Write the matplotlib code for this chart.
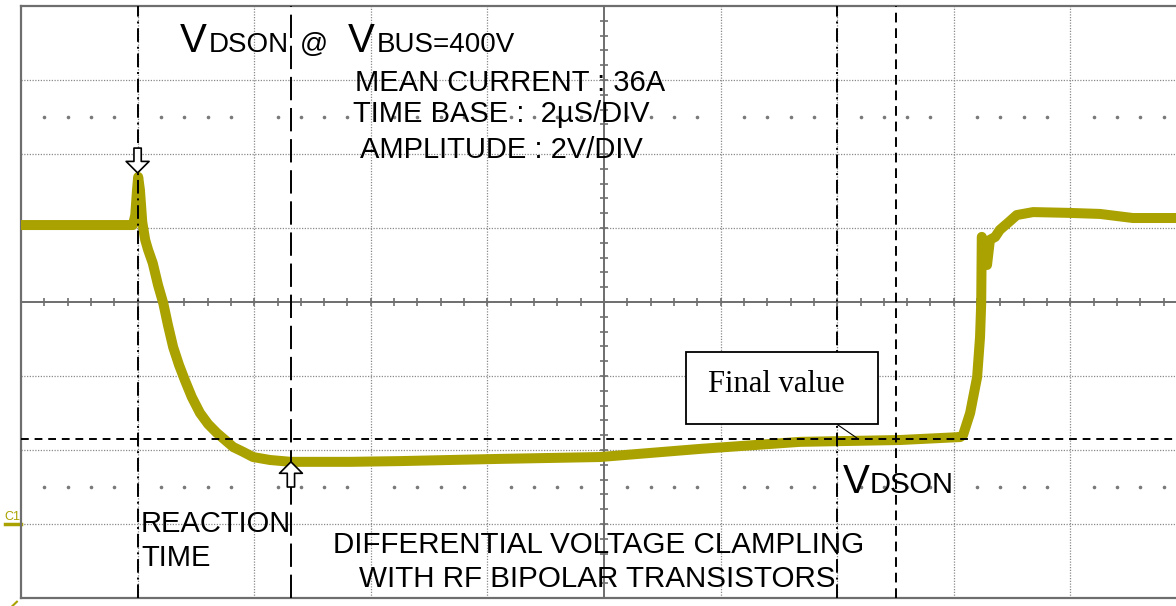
import numpy as np
import matplotlib.pyplot as plt
from matplotlib.patches import Rectangle

# Осцилограма на VDSON: 2 µs/div по време, 2 V/div по амплитуда

# сигнал (време в µs, напрежение във V)
trace_t = [0.00, 1.92, 1.96, 1.99, 2.01, 2.04, 2.08, 2.13, 2.18, 2.26, 2.35, 2.44,
           2.52, 2.61, 2.71, 2.81, 2.93, 3.07, 3.21, 3.36, 3.50, 3.64, 3.81, 3.98,
           4.27, 4.63, 5.64, 6.50, 8.22, 9.93, 11.65, 13.36, 15.08, 16.11, 16.16,
           16.28, 16.40, 16.45, 16.47, 16.48, 16.50, 16.54, 16.57, 16.62, 16.71,
           16.79, 16.93, 17.08, 17.36, 17.94, 18.51, 19.07, 20.00]
trace_v = [8.08, 8.08, 8.35, 9.03, 9.38, 9.03, 8.16, 7.68, 7.41, 7.05, 6.46, 5.97,
           5.38, 4.78, 4.30, 3.89, 3.43, 3.00, 2.70, 2.46, 2.27, 2.08, 1.95, 1.81,
           1.73, 1.68, 1.68, 1.70, 1.76, 1.81, 2.03, 2.22, 2.27, 2.35, 2.41,
           3.00, 3.97, 5.05, 5.97, 7.76, 7.68, 7.27, 7.00, 7.68, 7.76,
           7.95, 8.14, 8.35, 8.43, 8.41, 8.38, 8.27, 8.27]

# курсори
cursor_dashdot_t = [2.0, 14.0]
cursor_dashed_t = [4.63, 15.0]
cursor_v = 2.3

# стрелки: (t, от V, до V)
arrow_down = (2.0, 10.16, 9.49)
arrow_up = (4.63, 1.0, 1.68)

yellow = '#aaa200'
grid_col = '#8a8a8a'
axis_col = '#6e6e6e'
sans = 'Liberation Sans'

fig = plt.figure(figsize=(11.76, 6.06), dpi=100)
ax = fig.add_axes([21 / 1176, 8 / 606, 1166 / 1176, 592 / 606])
ax.set_xlim(0, 20)
ax.set_ylim(-2, 14)
ax.set_xticks([])
ax.set_yticks([])
for s in ax.spines.values():
    s.set_color(axis_col)
    s.set_linewidth(1.6)

# мрежа
for t in range(2, 20, 2):
    if t != 10:
        ax.axvline(t, color=grid_col, lw=0.9, ls=(0, (1, 1.2)), zorder=1)
for v in range(0, 14, 2):
    if v != 6:
        ax.axhline(v, color=grid_col, lw=0.9, ls=(0, (1, 1.2)), zorder=1)
ax.axhline(6, color=axis_col, lw=1.4, zorder=1)
ax.axvline(10, color=axis_col, lw=1.4, zorder=1)
ax.vlines(np.arange(0, 20.01, 0.4), 5.89, 6.11, color=axis_col, lw=1.2, zorder=1)
ax.hlines(np.arange(-2, 14.01, 0.4), 9.93, 10.07, color=axis_col, lw=1.2, zorder=1)

dots_t = [t for t in np.arange(0.4, 20, 0.4) if abs(t / 2 - round(t / 2)) > 0.05]
for v in [11, 1]:
    ax.plot(dots_t, [v] * len(dots_t), ls='none', marker='o', ms=1.6,
            color='#7a7a7a', zorder=1)

# сигнал
ax.plot(trace_t, trace_v, color=yellow, lw=7.2, solid_joinstyle='round',
        solid_capstyle='butt', zorder=3)

# курсори
for t in cursor_dashdot_t:
    ax.axvline(t, color='black', lw=1.4, ls=(0, (7, 2.5, 1, 2.5)), zorder=4)
for t in cursor_dashed_t:
    ax.axvline(t, color='black', lw=1.4, ls=(0, (12, 4)) if t < 10 else (0, (5, 3)), zorder=4)
ax.axhline(cursor_v, color='black', lw=1.4, ls=(0, (4, 3)), zorder=4)

# стрелки
for t, v0, v1 in [arrow_down, arrow_up]:
    ax.annotate('', xy=(t, v1), xytext=(t, v0),
                arrowprops=dict(arrowstyle='simple,head_length=0.55,head_width=1.1,tail_width=0.35',
                                fc='white', ec='black', lw=1.2, shrinkA=0, shrinkB=0,
                                mutation_scale=15), zorder=5)

# заглавие
ax.text(2.73, 12.76, 'V', fontsize=29, family=sans, va='baseline')
ax.text(3.22, 12.76, 'DSON', fontsize=20, family=sans, va='baseline')
ax.text(4.79, 12.76, '@', fontsize=20, family=sans, va='baseline')
ax.text(5.61, 12.76, 'V', fontsize=29, family=sans, va='baseline')
ax.text(6.10, 12.76, 'BUS=400V', fontsize=20, family=sans, va='baseline')

ax.text(5.73, 11.70, 'MEAN CURRENT : 36A', fontsize=21, family=sans, va='baseline')
ax.text(5.69, 10.86, 'TIME BASE :  2µS/DIV', fontsize=21, family=sans, va='baseline')
ax.text(5.81, 9.89, 'AMPLITUDE : 2V/DIV', fontsize=21, family=sans, va='baseline')

ax.text(2.06, -0.22, 'REACTION', fontsize=21, family=sans, va='baseline')
ax.text(2.06, -1.14, 'TIME', fontsize=21, family=sans, va='baseline')

ax.text(9.90, -0.78, 'DIFFERENTIAL VOLTAGE CLAMPLING', fontsize=21.3, family=sans,
        va='baseline', ha='center')
ax.text(9.88, -1.70, 'WITH RF BIPOLAR TRANSISTORS', fontsize=21.3, family=sans,
        va='baseline', ha='center')

ax.text(14.10, 0.84, 'V', fontsize=29, family=sans, va='baseline')
ax.text(14.55, 0.84, 'DSON', fontsize=21, family=sans, va='baseline')

# кутия "Final value"
ax.add_patch(Rectangle((11.41, 2.70), 3.29, 1.95, facecolor='white',
                       edgecolor='black', lw=1.3, zorder=5))
ax.text(11.78, 3.57, 'Final value', fontsize=22, family='Liberation Serif',
        va='baseline', zorder=6)
ax.plot([14.01, 14.36], [2.68, 2.30], color='black', lw=0.8, zorder=6)

# маркер на канала
ax.text(-0.29, 0.11, 'C1', fontsize=9, family=sans, color=yellow, va='baseline',
        clip_on=False)
ax.plot([-0.27, 0], [0, 0], color=yellow, lw=2.5, clip_on=False)
ax.plot([-0.15, -0.07], [-2.22, -2.10], color=yellow, lw=1.5, clip_on=False)

fig.savefig('out.png', dpi=100)
